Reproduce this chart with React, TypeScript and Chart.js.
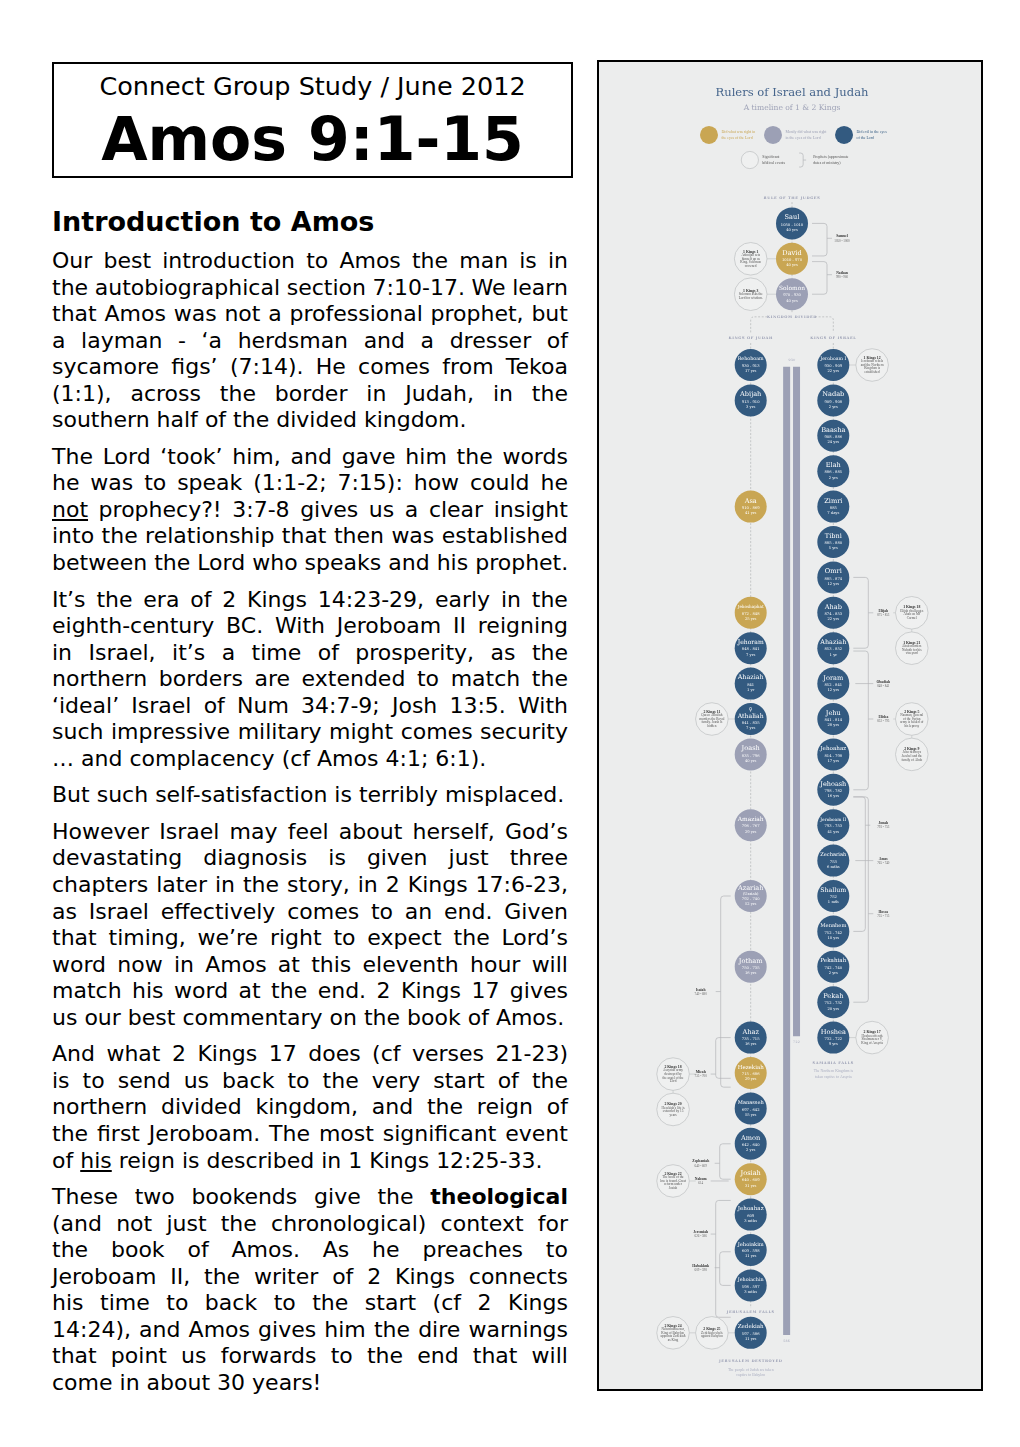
import React, { useEffect, useRef } from "react";
import { Chart, registerables } from "chart.js";

Chart.register(...registerables);

// ---------------- DATA ----------------
const verdictKeys = ["good", "mixed", "evil"];
const verdictLegend = [
  ["Did what was right in", "the eyes of the Lord"],
  ["Mostly did what was right", "in the eyes of the Lord"],
  ["Did evil in the eyes", "of the Lord"],
];

const unitedNames = ["Saul", "David", "Solomon"];
const unitedReigns = ["1050 - 1010", "1010 - 970", "970 - 930"];
const unitedLengths = ["40 yrs", "40 yrs", "40 yrs"];
const unitedVerdicts = ["evil", "good", "mixed"];
const unitedRows = [-4, -3, -2];

const judahNames = ["Rehoboam", "Abijah", "Asa", "Jehoshaphat", "Jehoram", "Ahaziah", "Athaliah", "Joash", "Amaziah", "Azariah", "Jotham", "Ahaz", "Hezekiah", "Manasseh", "Amon", "Josiah", "Jehoahaz", "Jehoiakim", "Jehoiachin", "Zedekiah"];
const judahNotes = ["", "", "", "", "", "", "♀", "", "", "(Uzziah)", "", "", "", "", "", "", "", "", "", ""];
const judahReigns = ["930 - 913", "913 - 910", "910 - 869", "872 - 848", "848 - 841", "841", "841 - 835", "835 - 796", "796 - 767", "792 - 740", "750 - 735", "735 - 715", "715 - 686", "697 - 642", "642 - 640", "640 - 609", "609", "609 - 598", "598 - 597", "597 - 586"];
const judahLengths = ["17 yrs", "3 yrs", "41 yrs", "25 yrs", "7 yrs", "1 yr", "7 yrs", "40 yrs", "29 yrs", "52 yrs", "16 yrs", "16 yrs", "29 yrs", "55 yrs", "2 yrs", "31 yrs", "3 mths", "11 yrs", "3 mths", "11 yrs"];
const judahVerdicts = ["evil", "evil", "good", "good", "evil", "evil", "evil", "mixed", "mixed", "mixed", "mixed", "evil", "good", "evil", "evil", "good", "evil", "evil", "evil", "evil"];
const judahRows = [0, 1, 4, 7, 8, 9, 10, 11, 13, 15, 17, 19, 20, 21, 22, 23, 24, 25, 26, 27.34];

const israelNames = ["Jeroboam I", "Nadab", "Baasha", "Elah", "Zimri", "Tibni", "Omri", "Ahab", "Ahaziah", "Joram", "Jehu", "Jehoahaz", "Jehoash", "Jeroboam II", "Zechariah", "Shallum", "Menahem", "Pekahiah", "Pekah", "Hoshea"];
const israelReigns = ["930 - 909", "909 - 908", "908 - 886", "886 - 885", "885", "885 - 880", "885 - 874", "874 - 853", "853 - 852", "852 - 841", "841 - 814", "814 - 798", "798 - 782", "793 - 753", "753", "752", "752 - 742", "742 - 740", "752 - 732", "732 - 722"];
const israelLengths = ["22 yrs", "2 yrs", "24 yrs", "2 yrs", "7 days", "5 yrs", "12 yrs", "22 yrs", "1 yr", "12 yrs", "28 yrs", "17 yrs", "16 yrs", "41 yrs", "6 mths", "1 mth", "10 yrs", "2 yrs", "20 yrs", "9 yrs"];
const israelVerdicts = ["evil", "evil", "evil", "evil", "evil", "evil", "evil", "evil", "evil", "evil", "evil", "evil", "evil", "evil", "evil", "evil", "evil", "evil", "evil", "evil"];
const israelRows = [0, 1, 2, 3, 4, 5, 6, 7, 8, 9, 10, 11, 12, 13, 14, 15, 16, 17, 18, 19];

const eventRefs = ["1 Kings 1", "1 Kings 3", "1 Kings 12", "1 Kings 18", "1 Kings 21", "2 Kings 5", "2 Kings 9", "2 Kings 11", "2 Kings 17", "2 Kings 18", "2 Kings 20", "2 Kings 22", "2 Kings 25", "2 Kings 24"];
const eventTexts = [
  "Adonijah sets|himself up as|King. Solomon|crowned",
  "Solomon asks the|Lord for wisdom.",
  "Jeroboam rebels|and the Northern|Kingdom is|established",
  "Elijah challenges|Ahab on Mt|Carmel",
  "Ahab murders|Naboth for his|vineyard",
  "Naaman, general|of the Syrian|army is healed of|his leprosy",
  "Jehu destroys|Jezebel and the|family of Ahab",
  "Queen Athaliah|murders the Royal|family. Joash is|hidden",
  "Hoshea offends|Shalmaneser V,|King of Assyria",
  "Assyrian army|destroyed by|the angel of the|Lord",
  "Hezekiah's life is|extended by 15|years",
  "The book of the|law is found. Great|reform under|Josiah",
  "Zedekiah rebels|against Babylon",
  "Nebuchadnezzar,|King of Babylon,|appoints Zedekiah|as King",
];
const eventCols = [-1, -1, 1.94, 2.9, 2.9, 2.9, 2.9, -1.94, 1.94, -2.88, -2.88, -2.88, -1.94, -2.88];
const eventRows = [-3, -2, 0, 7, 8, 10, 11, 10, 19, 20.03, 21.03, 23.05, 27.34, 27.34];
const eventLinkCols = [0, 0, 1, 2.45, 2.9, 2.45, 2.9, -1, 1, -2.33, -2.88, -2.33, -1, -1.94];
const eventLinkRows = [-3, -2, 0, 7, 7, 10, 10, 10, 19, 20.03, 20.03, 23.05, 27.34, 27.34];

const prophetNames = ["Samuel", "Nathan", "Elijah", "Obadiah", "Elisha", "Jonah", "Amos", "Hosea", "Isaiah", "Micah", "Zephaniah", "Nahum", "Jeremiah", "Habakkuk"];
const prophetDates = ["1050 - 1000", "990 - 960", "875 - 853", "848 - 841", "852 - 795", "793 - 753", "765 - 740", "755 - 715", "740 - 680", "735 - 700", "640 - 609", "614", "626 - 586", "609 - 598"];
const prophetCols = [0, 0, 1, 1, 1, 1, 1, 1, -1, -1, -1, -1, -1, -1];
const prophetFrom = [-4, -2.92, 6, 9, 8.08, 12.2, 14, 12.2, 15, 19, 22, 23.05, 23.6, 25.05];
const prophetTo = [-3.08, -2, 8, 9, 12, 16, 14, 18, 20.4, 20.15, 23, 23.05, 26.9, 26];
const prophetLabelRows = [-3.58, -2.55, 7, 9, 10, 13, 14, 15.5, 17.7, 20.03, 22.55, 23.05, 24.55, 25.5];
const prophetBracketInset = [35, 35, 35, 0, 35, 32, 0, 35, 30, 35, 31, 0, 35, 31];

const reignSpanStart = ["930", "930"];
const reignSpanEnd = ["586", "722"];

// ---------------- STYLE / LAYOUT ----------------
const BG = "#eceded";
const GOLD = "#c9a653";
const GRAY = "#9ca0b5";
const BLUE = "#335a80";
const VCOLOR: Record<string, string> = { good: GOLD, mixed: GRAY, evil: BLUE };
const LINE = "#b9bbbd";
const CANVAS_W = 382;
const CANVAS_H = 1327;
const PAGE_X0 = 599;
const PAGE_Y0 = 62;
const CENTER_X = 792;
const ROW0_Y = 365;
const COL_W = 41.3;
const ROW_H = 35.4;
const X_MIN = (PAGE_X0 - CENTER_X) / COL_W;
const X_MAX = (PAGE_X0 + CANVAS_W - CENTER_X) / COL_W;
const Y_MIN = (PAGE_Y0 - ROW0_Y) / ROW_H;
const Y_MAX = (PAGE_Y0 + CANVAS_H - ROW0_Y) / ROW_H;
const SERIF = '"DejaVu Serif", serif';
const SMALL = '"Liberation Serif", serif';

type King = { name: string; note: string; reign: string; len: string; verdict: string; col: number; row: number };
const kings: King[] = [
  ...unitedNames.map((n, i) => ({ name: n, note: "", reign: unitedReigns[i], len: unitedLengths[i], verdict: unitedVerdicts[i], col: 0, row: unitedRows[i] })),
  ...judahNames.map((n, i) => ({ name: n, note: judahNotes[i], reign: judahReigns[i], len: judahLengths[i], verdict: judahVerdicts[i], col: -1, row: judahRows[i] })),
  ...israelNames.map((n, i) => ({ name: n, note: "", reign: israelReigns[i], len: israelLengths[i], verdict: israelVerdicts[i], col: 1, row: israelRows[i] })),
];

const JUDAH_BAR_X = -0.13;
const ISRAEL_BAR_X = 0.11;
const FALLS_ROW = 26.76;

function txt(ctx: any, s: string, x: number, y: number, font: string, color: string, align: string = "center", spacing = "0px") {
  ctx.font = font;
  ctx.fillStyle = color;
  ctx.textAlign = align;
  ctx.textBaseline = "middle";
  ctx.letterSpacing = spacing;
  ctx.fillText(s, x, y);
  ctx.letterSpacing = "0px";
}
function fitSize(ctx: any, s: string, family: string, weight: string, maxW: number, maxSize: number) {
  ctx.font = `${weight} 10px ${family}`;
  const w = ctx.measureText(s).width;
  return Math.min(maxSize, (10 * maxW) / w);
}

const decorPlugin = {
  id: "timelineDecor",
  beforeDatasetsDraw(chart: any) {
    const ctx = chart.ctx;
    const X = (v: number) => chart.scales.x.getPixelForValue(v);
    const Y = (v: number) => chart.scales.y.getPixelForValue(v);
    ctx.save();
    // kingdom divided dashed bracket
    ctx.strokeStyle = LINE;
    ctx.lineWidth = 0.8;
    ctx.setLineDash([2, 1.6]);
    const yb = Y(-1.36);
    const yd = Y(-0.92);
    ctx.beginPath();
    ctx.moveTo(X(-1), yd);
    ctx.arcTo(X(-1), yb, X(-1) + 4, yb, 3);
    ctx.lineTo(X(0) - 23, yb);
    ctx.moveTo(X(0) + 23, yb);
    ctx.arcTo(X(1), yb, X(1), yb + 4, 3);
    ctx.lineTo(X(1), yd);
    ctx.stroke();
    ctx.setLineDash([]);
    // event links
    ctx.strokeStyle = "#c3c5c7";
    ctx.lineWidth = 0.7;
    eventRefs.forEach((_, i) => {
      ctx.beginPath();
      ctx.moveTo(X(eventCols[i]), Y(eventRows[i]));
      ctx.lineTo(X(eventLinkCols[i]), Y(eventLinkRows[i]));
      ctx.stroke();
    });
    // prophet brackets
    ctx.strokeStyle = "#b3b5b8";
    ctx.lineWidth = 0.7;
    prophetNames.forEach((_, i) => {
      const side = prophetCols[i] >= 0 ? 1 : -1;
      const cx = X(prophetCols[i]);
      const arm = cx + side * 20;
      const yA = Y(prophetFrom[i]);
      const yB = Y(prophetTo[i]);
      const yL = Y(prophetLabelRows[i]);
      ctx.beginPath();
      if (prophetFrom[i] === prophetTo[i]) {
        ctx.moveTo(cx + side * 22, yL);
        ctx.lineTo(cx + side * 40, yL);
      } else {
        const vx = cx + side * prophetBracketInset[i];
        ctx.moveTo(arm, yA);
        ctx.arcTo(vx, yA, vx, yA + 3, 3);
        ctx.arcTo(vx, yB, arm, yB, 3);
        ctx.lineTo(arm, yB);
        ctx.moveTo(vx, yL);
        ctx.lineTo(vx + side * 5, yL);
      }
      ctx.stroke();
    });
    ctx.restore();
  },
  afterDatasetsDraw(chart: any) {
    const ctx = chart.ctx;
    const X = (v: number) => chart.scales.x.getPixelForValue(v);
    const Y = (v: number) => chart.scales.y.getPixelForValue(v);
    ctx.save();
    // title
    const t1 = "Rulers of Israel and Judah";
    txt(ctx, t1, X(0), Y(-7.68), `${fitSize(ctx, t1, SERIF, "normal", 153, 14)}px ${SERIF}`, "#46658c");
    const t2 = "A timeline of 1 & 2 Kings";
    txt(ctx, t2, X(0), Y(-7.25), `${fitSize(ctx, t2, SERIF, "normal", 97, 12)}px ${SERIF}`, "#a0a4b8");
    // legend texts
    const legX = [-2.01, -0.46, 1.26];
    verdictKeys.forEach((k, i) => {
      const lx = X(legX[i]) + 12.5;
      txt(ctx, verdictLegend[i][0], lx, Y(-6.5) - 2.6, `3.9px ${SMALL}`, VCOLOR[k], "left");
      txt(ctx, verdictLegend[i][1], lx, Y(-6.5) + 2.6, `3.9px ${SMALL}`, VCOLOR[k], "left");
    });
    txt(ctx, "Significant", X(-1.02) + 12.5, Y(-5.79) - 2.6, `3.9px ${SMALL}`, "#555", "left");
    txt(ctx, "biblical events", X(-1.02) + 12.5, Y(-5.79) + 2.6, `3.9px ${SMALL}`, "#555", "left");
    txt(ctx, "Prophets (approximate", X(0.27) + 10, Y(-5.79) - 2.6, `3.9px ${SMALL}`, "#555", "left");
    txt(ctx, "dates of ministry)", X(0.27) + 10, Y(-5.79) + 2.6, `3.9px ${SMALL}`, "#555", "left");
    // legend bracket symbol
    ctx.strokeStyle = "#b3b5b8";
    ctx.lineWidth = 0.7;
    const bx = X(0.27), by = Y(-5.79);
    ctx.beginPath();
    ctx.moveTo(bx - 4, by - 7);
    ctx.arcTo(bx, by - 7, bx, by - 4, 2.5);
    ctx.arcTo(bx, by + 7, bx - 4, by + 7, 2.5);
    ctx.lineTo(bx - 4, by + 7);
    ctx.moveTo(bx, by);
    ctx.lineTo(bx + 3, by);
    ctx.stroke();
    // section labels
    const cap = `bold 3.6px ${SERIF}`;
    txt(ctx, "RULE OF THE JUDGES", X(0), Y(-4.72), cap, GRAY, "center", "0.6px");
    txt(ctx, "KINGDOM DIVIDED", X(0), Y(-1.36), cap, GRAY, "center", "0.6px");
    txt(ctx, "KINGS OF JUDAH", X(-1), Y(-0.77), cap, GRAY, "center", "0.6px");
    txt(ctx, "KINGS OF ISRAEL", X(1), Y(-0.77), cap, GRAY, "center", "0.6px");
    txt(ctx, "SAMARIA FALLS", X(1), Y(19.72), cap, GRAY, "center", "0.6px");
    txt(ctx, "The Northern Kingdom is", X(1), Y(19.95), `3.8px ${SMALL}`, "#a9adc0");
    txt(ctx, "taken captive to Assyria", X(1), Y(20.12), `3.8px ${SMALL}`, "#a9adc0");
    txt(ctx, "JERUSALEM FALLS", X(-1), Y(FALLS_ROW), cap, GRAY, "center", "0.6px");
    txt(ctx, "JERUSALEM DESTROYED", X(-1), Y(28.15), cap, GRAY, "center", "0.6px");
    txt(ctx, "The people of Judah are taken", X(-1), Y(28.38), `3.8px ${SMALL}`, "#a9adc0");
    txt(ctx, "captive to Babylon", X(-1), Y(28.54), `3.8px ${SMALL}`, "#a9adc0");
    // reign span labels
    txt(ctx, reignSpanStart[0], X(0), Y(-0.13), `3.2px ${SERIF}`, GRAY, "center", "0.3px");
    txt(ctx, reignSpanEnd[1], X(ISRAEL_BAR_X), Y(19.14), `3.2px ${SERIF}`, GRAY, "center", "0.3px");
    txt(ctx, reignSpanEnd[0], X(JUDAH_BAR_X), Y(27.57), `3.2px ${SERIF}`, GRAY, "center", "0.3px");
    // kings
    kings.forEach((k) => {
      const cx = X(k.col), cy = Y(k.row);
      const ns = fitSize(ctx, k.name, SERIF, "normal", 26, 6.6);
      const nf = `${ns}px ${SERIF}`;
      const sf = `3.7px ${SERIF}`;
      if (k.note === "♀") {
        txt(ctx, "♀", cx, cy - 9, `5px "DejaVu Sans"`, "#fff");
        txt(ctx, k.name, cx, cy - 2.5, nf, "#fff");
        txt(ctx, k.reign, cx, cy + 4, sf, "#fff");
        txt(ctx, k.len, cx, cy + 9, sf, "#fff");
      } else if (k.note) {
        txt(ctx, k.name, cx, cy - 7.5, nf, "#fff");
        txt(ctx, k.note, cx, cy - 2, sf, "#fff");
        txt(ctx, k.reign, cx, cy + 3, sf, "#fff");
        txt(ctx, k.len, cx, cy + 8, sf, "#fff");
      } else {
        txt(ctx, k.name, cx, cy - 5.8, nf, "#fff");
        txt(ctx, k.reign, cx, cy + 1.2, sf, "#fff");
        txt(ctx, k.len, cx, cy + 6.4, sf, "#fff");
      }
    });
    // events
    eventRefs.forEach((ref, i) => {
      const cx = X(eventCols[i]), cy = Y(eventRows[i]);
      const lines = eventTexts[i].split("|");
      const lh = 3.6;
      const y0 = cy - (lines.length * lh) / 2;
      txt(ctx, ref, cx, y0, `bold 3.8px ${SMALL}`, "#333");
      lines.forEach((l, j) => txt(ctx, l, cx, y0 + (j + 1) * lh, `3.4px ${SMALL}`, "#555"));
    });
    // prophet labels
    prophetNames.forEach((p, i) => {
      const side = prophetCols[i] >= 0 ? 1 : -1;
      const lx = X(prophetCols[i]) + side * 50;
      const ly = Y(prophetLabelRows[i]);
      txt(ctx, p, lx, ly - 1.9, `bold 3.7px ${SMALL}`, "#333");
      txt(ctx, prophetDates[i], lx, ly + 2.4, `3.2px ${SMALL}`, "#666");
    });
    ctx.restore();
  },
};

function buildConfig(): any {
  const lineDs = (label: string, pts: { x: number; y: number }[], color: string, width: number, dash: number[]) => ({
    type: "line",
    label,
    data: pts,
    borderColor: color,
    borderWidth: width,
    borderDash: dash,
    borderCapStyle: "butt",
    pointRadius: 0,
    tension: 0,
    fill: false,
    clip: false,
    order: 5,
  });
  return {
    type: "bubble",
    data: {
      datasets: [
        {
          type: "bubble",
          label: "Rulers",
          data: kings.map((k) => ({ x: k.col, y: k.row, r: 16 })),
          backgroundColor: kings.map((k) => VCOLOR[k.verdict]),
          borderWidth: 0,
          clip: false,
          order: 1,
        },
        {
          type: "bubble",
          label: "Significant biblical events",
          data: eventRefs.map((_, i) => ({ x: eventCols[i], y: eventRows[i], r: 16.3 })),
          backgroundColor: "#eff0f0",
          borderColor: "#c3c5c7",
          borderWidth: 0.8,
          clip: false,
          order: 1,
        },
        {
          type: "bubble",
          label: "Legend",
          data: [
            { x: -2.01, y: -6.5, r: 9 },
            { x: -0.46, y: -6.5, r: 9 },
            { x: 1.26, y: -6.5, r: 9 },
            { x: -1.02, y: -5.79, r: 8.6 },
          ],
          backgroundColor: [GOLD, GRAY, BLUE, "#eff0f0"],
          borderColor: [GOLD, GRAY, BLUE, "#c3c5c7"],
          borderWidth: [0, 0, 0, 0.8],
          clip: false,
          order: 1,
        },
        lineDs("Judah reign span", [{ x: JUDAH_BAR_X, y: 0.05 }, { x: JUDAH_BAR_X, y: 27.4 }], GRAY, 7, []),
        lineDs("Israel reign span", [{ x: ISRAEL_BAR_X, y: 0.05 }, { x: ISRAEL_BAR_X, y: 18.96 }], GRAY, 7, []),
        lineDs("United line", [{ x: 0, y: -4.6 }, { x: 0, y: unitedRows[2] + 0.55 }], LINE, 0.8, [2, 1.6]),
        lineDs("Judah line", [{ x: -1, y: -0.62 }, { x: -1, y: FALLS_ROW - 0.12 }], LINE, 0.8, [2, 1.6]),
        lineDs("Judah end line", [{ x: -1, y: FALLS_ROW + 0.12 }, { x: -1, y: judahRows[judahRows.length - 1] }], LINE, 0.8, [2, 1.6]),
        lineDs("Israel line", [{ x: 1, y: -0.62 }, { x: 1, y: israelRows[israelRows.length - 1] }], LINE, 0.8, [2, 1.6]),
      ],
    },
    options: {
      responsive: false,
      animation: false,
      devicePixelRatio: 1,
      events: [],
      layout: { padding: 0, autoPadding: false },
      plugins: { legend: { display: false }, tooltip: { enabled: false }, title: { display: false } },
      scales: {
        x: { type: "linear", display: false, min: X_MIN, max: X_MAX },
        y: { type: "linear", display: false, min: Y_MIN, max: Y_MAX, reverse: true },
      },
    },
    plugins: [decorPlugin],
  };
}

function TimelineChart() {
  const ref = useRef<HTMLCanvasElement>(null);
  useEffect(() => {
    const chart = new Chart(ref.current as HTMLCanvasElement, buildConfig());
    return () => chart.destroy();
  }, []);
  return (
    <canvas
      ref={ref}
      width={CANVAS_W}
      height={CANVAS_H}
      style={{ display: "block", width: CANVAS_W, height: CANVAS_H, background: BG }}
    />
  );
}

// ---------------- LEFT TEXT ----------------
const paragraphs: string[][] = [
  [
    "Our best introduction to Amos the man is in",
    "the autobiographical section 7:10-17.  We learn",
    "that Amos was not a professional prophet, but",
    "a layman - ‘a herdsman and a dresser of",
    "sycamore figs’ (7:14).  He comes from Tekoa",
    "(1:1), across the border in Judah, in the",
    "southern half of the divided kingdom.",
  ],
  [
    "The Lord ‘took’ him, and gave him the words",
    "he was to speak (1:1-2; 7:15): how could he",
    "_not_ prophecy?!  3:7-8 gives us a clear insight",
    "into the relationship that then was established",
    "between the Lord who speaks and his prophet.",
  ],
  [
    "It’s the era of 2 Kings 14:23-29, early in the",
    "eighth-century BC.  With Jeroboam II reigning",
    "in Israel, it’s a time of prosperity, as the",
    "northern borders are extended to match the",
    "‘ideal’ Israel of Num 34:7-9; Josh 13:5.  With",
    "such impressive military might comes security",
    "… and complacency (cf Amos 4:1; 6:1).",
  ],
  ["But such self-satisfaction is terribly misplaced."],
  [
    "However Israel may feel about herself, God’s",
    "devastating diagnosis is given just three",
    "chapters later in the story, in 2 Kings 17:6-23,",
    "as Israel effectively comes to an end.  Given",
    "that timing, we’re right to expect the Lord’s",
    "word now in Amos at this eleventh hour will",
    "match his word at the end.  2 Kings 17 gives",
    "us our best commentary on the book of Amos.",
  ],
  [
    "And what 2 Kings 17 does (cf verses 21-23)",
    "is to send us back to the very start of the",
    "northern divided kingdom, and the reign of",
    "the first Jeroboam. The most significant event",
    "of _his_ reign is described in 1 Kings 12:25-33.",
  ],
  [
    "These two bookends give the *theological*",
    "(and not just the chronological) context for",
    "the book of Amos.  As he preaches to",
    "Jeroboam II, the writer of 2 Kings connects",
    "his time to back to the start (cf 2 Kings",
    "14:24), and Amos gives him the dire warnings",
    "that point us forwards to the end that will",
    "come in about 30 years!",
  ],
];

function Word({ w }: { w: string }) {
  if (w.startsWith("_") && w.endsWith("_")) return <span style={{ textDecoration: "underline" }}>{w.slice(1, -1)}</span>;
  if (w.startsWith("*") && w.endsWith("*")) return <span style={{ fontWeight: "bold" }}>{w.slice(1, -1)}</span>;
  return <span>{w}</span>;
}

function Line({ text, last }: { text: string; last: boolean }) {
  const words = text.split(/\s+/);
  if (last) {
    return (
      <div style={{ whiteSpace: "pre" }}>
        {words.map((w, i) => (
          <React.Fragment key={i}>
            {i ? " " : ""}
            <Word w={w} />
          </React.Fragment>
        ))}
      </div>
    );
  }
  return (
    <div style={{ display: "flex", justifyContent: "space-between", whiteSpace: "pre" }}>
      {words.map((w, i) => (
        <Word key={i} w={w} />
      ))}
    </div>
  );
}

export default function App() {
  const sans = '"DejaVu Sans", Verdana, sans-serif';
  return (
    <div style={{ position: "absolute", left: 0, top: 0, width: 1020, height: 1447, background: "#fff", fontFamily: sans, color: "#000" }}>
      <div
        style={{
          position: "absolute",
          left: 52,
          top: 62,
          width: 521,
          height: 116,
          boxSizing: "border-box",
          border: "2px solid #000",
        }}
      />
      <div style={{ position: "absolute", left: 52, width: 521, top: 74, textAlign: "center", fontSize: 25.5, lineHeight: "25.5px", whiteSpace: "nowrap" }}>
        Connect Group Study / June 2012
      </div>
      <div style={{ position: "absolute", left: 52, width: 521, top: 109, textAlign: "center", fontSize: 60, lineHeight: "60px", fontWeight: "bold", whiteSpace: "nowrap" }}>
        Amos 9:1-15
      </div>
      <div style={{ position: "absolute", left: 52, top: 208, fontSize: 27, lineHeight: "27px", fontWeight: "bold", whiteSpace: "nowrap" }}>
        Introduction to Amos
      </div>
      <div style={{ position: "absolute", left: 52, top: 248, width: 516, fontSize: 22, lineHeight: "26.55px" }}>
        {paragraphs.map((p, pi) => (
          <div key={pi} style={{ marginBottom: 10 }}>
            {p.map((l, li) => (
              <Line key={li} text={l} last={li === p.length - 1} />
            ))}
          </div>
        ))}
      </div>
      <div
        style={{
          position: "absolute",
          left: 597,
          top: 60,
          width: 386,
          height: 1331,
          boxSizing: "border-box",
          border: "2px solid #000",
          background: BG,
        }}
      >
        <TimelineChart />
      </div>
    </div>
  );
}
